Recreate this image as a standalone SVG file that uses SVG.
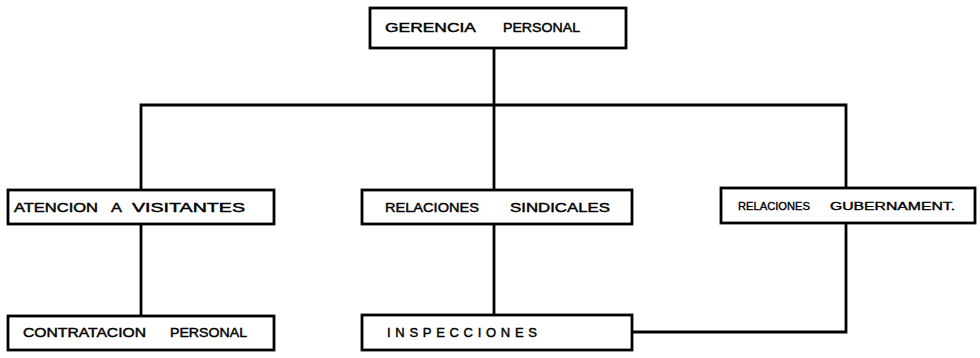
<svg xmlns="http://www.w3.org/2000/svg" width="980" height="358" viewBox="0 0 980 358">
<style>
.box{fill:#fff;stroke:#000;stroke-width:2.8}
.ln{fill:none;stroke:#000;stroke-width:2.8;stroke-linecap:square}
text{font-family:"Liberation Sans",Arial,sans-serif;font-size:13px;fill:#000;stroke:#000;stroke-width:0.45}
.sm{font-size:10px;stroke-width:0.35}
</style>
<rect width="980" height="358" fill="#fff"/>
<g id="connectors">
<path class="ln" d="M494 48 V190"/>
<path class="ln" d="M141 190 V105 H846 V188"/>
<path class="ln" d="M141 224 V316"/>
<path class="ln" d="M494 224 V315"/>
<path class="ln" d="M846 223 V332 H632"/>
</g>
<g id="gerencia-personal">
<rect class="box" x="370" y="8" width="256" height="40"/>
<text y="32"><tspan x="385" textLength="90" lengthAdjust="spacingAndGlyphs">GERENCIA</tspan> <tspan x="503" textLength="77" lengthAdjust="spacingAndGlyphs">PERSONAL</tspan></text>
</g>
<g id="atencion-visitantes">
<rect class="box" x="8" y="190" width="266" height="34"/>
<text y="212"><tspan x="14" textLength="84" lengthAdjust="spacingAndGlyphs">ATENCION</tspan> <tspan x="111" textLength="10" lengthAdjust="spacingAndGlyphs">A</tspan> <tspan x="132" textLength="113" lengthAdjust="spacingAndGlyphs">VISITANTES</tspan></text>
</g>
<g id="relaciones-sindicales">
<rect class="box" x="362" y="190" width="270" height="34"/>
<text y="212"><tspan x="385" textLength="94" lengthAdjust="spacingAndGlyphs">RELACIONES</tspan> <tspan x="510" textLength="100" lengthAdjust="spacingAndGlyphs">SINDICALES</tspan></text>
</g>
<g id="relaciones-gubernament">
<rect class="box" x="721" y="188" width="254" height="35"/>
<text class="sm" y="210"><tspan x="738" textLength="72" lengthAdjust="spacingAndGlyphs">RELACIONES</tspan> <tspan x="830" textLength="125" lengthAdjust="spacingAndGlyphs">GUBERNAMENT.</tspan></text>
</g>
<g id="contratacion-personal">
<rect class="box" x="8" y="316" width="266" height="34"/>
<text y="337"><tspan x="23" textLength="123" lengthAdjust="spacingAndGlyphs">CONTRATACION</tspan> <tspan x="170" textLength="77" lengthAdjust="spacingAndGlyphs">PERSONAL</tspan></text>
</g>
<g id="inspecciones">
<rect class="box" x="362" y="315" width="270" height="35"/>
<text x="387" y="337" textLength="150" lengthAdjust="spacing">INSPECCIONES</text>
</g>
</svg>
